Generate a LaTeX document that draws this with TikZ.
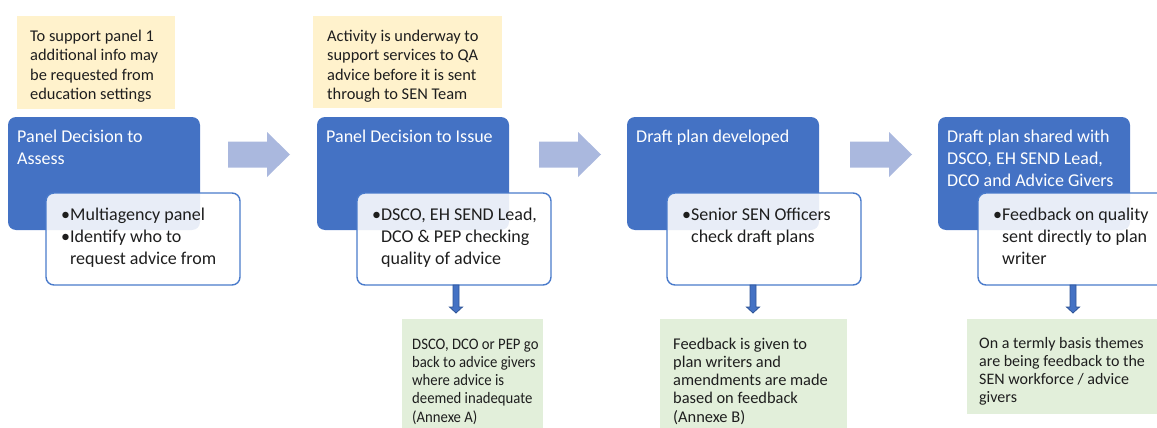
\documentclass[tikz,border=0pt]{standalone}
\usepackage{graphicx}
\usepackage{fontspec}
\setmainfont{Carlito}
\usetikzlibrary{calc}
\definecolor{blueA}{HTML}{4472C4}
\definecolor{blueB}{HTML}{4A7BCB}
\definecolor{blueD}{HTML}{2F5597}
\definecolor{noteY}{HTML}{FFF2CC}
\definecolor{noteG}{HTML}{E2EFDA}
\definecolor{arrL}{HTML}{AAB8DE}
\definecolor{ink}{HTML}{1E1E1E}
\begin{document}
\begin{tikzpicture}[x=1pt,y=-1pt,
  bluebox/.style={anchor=north west, inner sep=0pt, outer sep=0pt, fill=blueA, rounded corners=8pt, minimum width=192pt, minimum height=113pt},
  whitebox/.style={anchor=north west, inner sep=0pt, outer sep=0pt, draw=blueB, line width=1.4pt, fill=white, fill opacity=0.88, rounded corners=8pt, minimum width=194pt, minimum height=92pt},
  ybox/.style={anchor=north west, inner sep=0pt, outer sep=0pt, fill=noteY},
  gbox/.style={anchor=north west, inner sep=0pt, outer sep=0pt, fill=noteG},
  titletxt/.style={anchor=north west, inner sep=0pt, text=white, font=\fontsize{18}{22}\selectfont},
  bultxt/.style={anchor=north west, inner sep=0pt, text=ink, font=\fontsize{18}{22}\selectfont},
  notetxt/.style={anchor=north west, inner sep=0pt, text=ink, font=\fontsize{16.4}{19.5}\selectfont},
  gtxt/.style={anchor=north west, inner sep=0pt, text=ink, font=\fontsize{15}{18.3}\selectfont},
  rarr/.style={fill=arrL},
  darr/.style={fill=blueA, draw=blueD, line width=0.8pt, line join=miter}
]
\useasboundingbox (0,0) rectangle (1157,428);
\clip (0,0) rectangle (1157,428);

% yellow notes
\node[ybox, minimum width=158pt, minimum height=93pt] (y1) at (17,16) {};
\node[notetxt] (y1t) at ($(y1.north west)+(13,11.5)$) {\begin{tabular}{@{}l@{}}To support panel 1\\additional info may\\be requested from\\education settings\end{tabular}};
\node[ybox, minimum width=189pt, minimum height=92pt] (y2) at (313,16) {};
\node[notetxt] (y2t) at ($(y2.north west)+(14,11.5)$) {\begin{tabular}{@{}l@{}}Activity is underway to\\support services to QA\\advice before it is sent\\through to SEN Team\end{tabular}};

% blue boxes
\node[bluebox] (b1) at (8,117) {};
\node[bluebox] (b2) at (317,117) {};
\node[bluebox] (b3) at (627,117) {};
\node[bluebox] (b4) at (938,117) {};
\node[titletxt] (t1) at ($(b1.north west)+(9,9.6)$) {\begin{tabular}{@{}l@{}}Panel Decision to\\Assess\end{tabular}};
\node[titletxt] (t2) at ($(b2.north west)+(9,9.6)$) {\begin{tabular}{@{}l@{}}Panel Decision to Issue\end{tabular}};
\node[titletxt] (t3) at ($(b3.north west)+(9,9.6)$) {\begin{tabular}{@{}l@{}}Draft plan developed\end{tabular}};
\node[titletxt] (t4) at ($(b4.north west)+(9,9.6)$) {\begin{tabular}{@{}l@{}}Draft plan shared with\\DSCO, EH SEND Lead,\\DCO and Advice Givers\end{tabular}};

% white boxes
\node[whitebox] (w1) at (46,193) {};
\node[whitebox] (w2) at (357,193) {};
\node[whitebox] (w3) at (667,193) {};
\node[whitebox] (w4) at (978,193) {};
\node[bultxt] (u1) at ($(w1.north west)+(15,12)$) {\begin{tabular}{@{}l@{}l@{}}•&Multiagency panel\\•&Identify who to\\&request advice from\end{tabular}};
\node[bultxt] (u2) at ($(w2.north west)+(15,12)$) {\begin{tabular}{@{}l@{}l@{}}•&DSCO, EH SEND Lead,\\&DCO \& PEP checking\\&quality of advice\end{tabular}};
\node[bultxt] (u3) at ($(w3.north west)+(15,12)$) {\begin{tabular}{@{}l@{}l@{}}•&Senior SEN Officers\\&check draft plans\end{tabular}};
\node[bultxt] (u4) at ($(w4.north west)+(15,12)$) {\begin{tabular}{@{}l@{}l@{}}•&Feedback on quality\\&sent directly to plan\\&writer\end{tabular}};

% right block arrows
\foreach \ax in {228,539,850}{
  \fill[rarr] (\ax,154.5) ++(0,-13) -- ++(39,0) -- ++(0,-9.5) -- ++(23,22.5) -- ++(-23,22.5) -- ++(0,-9.5) -- ++(-39,0) -- cycle;
}

% green notes
\node[gbox, minimum width=141pt, minimum height=122pt] (g1) at (402,319) {};
\node[gbox, minimum width=187pt, minimum height=122pt] (g2) at (660,319) {};
\node[gbox, minimum width=200pt, minimum height=95pt] (g3) at (967,319) {};
\node[gtxt, font=\fontsize{16}{18.3}\selectfont] (g1t) at ($(g1.north west)+(10,17)$) {\scalebox{0.92}[1]{\begin{tabular}{@{}l@{}}DSCO, DCO or PEP go\\back to advice givers\\where advice is\\deemed inadequate\\(Annexe A)\end{tabular}}};
\node[gtxt, font=\fontsize{16.4}{18.3}\selectfont] (g2t) at ($(g2.north west)+(13,17)$) {\begin{tabular}{@{}l@{}}Feedback is given to\\plan writers and\\amendments are made\\based on feedback\\(Annexe B)\end{tabular}};
\node[gtxt, font=\fontsize{16}{18.3}\selectfont] (g3t) at ($(g3.north west)+(12,16)$) {\begin{tabular}{@{}l@{}}On a termly basis themes\\are being feedback to the\\SEN workforce / advice\\givers\end{tabular}};

% down arrows
\filldraw[darr] ($(w2.south west)+(99,0)$) ++(-3,0) -- ++(0,22) -- ++(-3.5,0) -- ++(6.5,6) -- ++(6.5,-6) -- ++(-3.5,0) -- ++(0,-22) -- cycle;
\filldraw[darr] ($(w3.south west)+(86,0)$) ++(-3,0) -- ++(0,22) -- ++(-3.5,0) -- ++(6.5,6) -- ++(6.5,-6) -- ++(-3.5,0) -- ++(0,-22) -- cycle;
\filldraw[darr] ($(w4.south west)+(95,0)$) ++(-3,0) -- ++(0,22) -- ++(-3.5,0) -- ++(6.5,6) -- ++(6.5,-6) -- ++(-3.5,0) -- ++(0,-22) -- cycle;
\end{tikzpicture}
\end{document}
